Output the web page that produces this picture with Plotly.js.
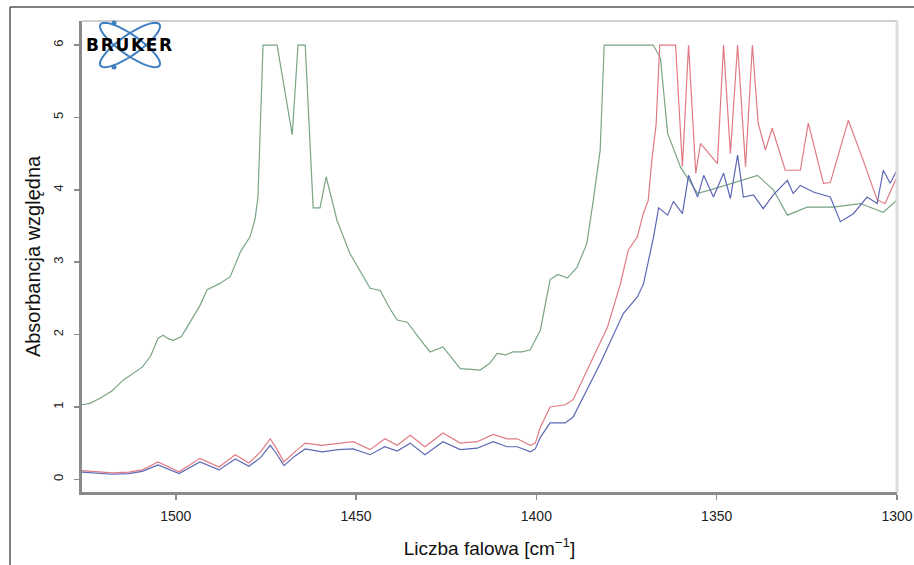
<!DOCTYPE html>
<html><head><meta charset="utf-8">
<script src="https://cdn.plot.ly/plotly-3.0.1.min.js"></script>
<style>html,body{margin:0;padding:0;background:#fff}#chart{width:914px;height:565px}</style>
</head><body><div id="chart"></div>
<script>
// Wavenumbers (cm^-1) and relative absorbance
const greenX = [1526,1523.8,1521,1517.7,1514.6,1509.3,1507,1504.9,1503.5,1502,1500.7,1498.5,1496.9,1493.3,1491.3,1488,1484.9,1482,1479.4,1478,1477.2,1476.5,1475.8,1471.9,1467.7,1466.1,1464.1,1461.9,1460,1458.3,1455.3,1451.7,1448,1446.1,1443.3,1440.5,1438.6,1435.8,1432.5,1429.5,1425.9,1423,1421.1,1418,1415.6,1413,1410.9,1408.5,1406.5,1404,1401.7,1398.9,1396.2,1394,1391.4,1388.7,1386,1384.2,1382.3,1381.2,1367.6,1365.6,1364.5,1363.6,1360,1355.3,1351.7,1347,1338.7,1334.3,1330.4,1324.9,1317.7,1310.2,1303.8,1300];
const greenY = [1.03,1.05,1.12,1.22,1.37,1.55,1.7,1.95,1.99,1.94,1.92,1.97,2.1,2.4,2.62,2.7,2.8,3.15,3.35,3.6,3.9,5.0,6.0,6.0,4.76,6.0,6.0,3.75,3.75,4.18,3.58,3.12,2.8,2.64,2.61,2.35,2.2,2.17,1.95,1.76,1.83,1.65,1.53,1.52,1.51,1.6,1.74,1.72,1.76,1.76,1.79,2.06,2.76,2.83,2.78,2.93,3.26,3.86,4.55,6.0,6.0,5.82,5.2,4.78,4.31,3.95,4.0,4.07,4.2,4.0,3.65,3.76,3.76,3.81,3.69,3.86];

const redX = [1526,1521,1517.7,1513,1509.3,1504.9,1499.1,1493.3,1488,1483.5,1479.7,1476.5,1473.8,1472,1470,1467,1464.1,1459.4,1455,1450.8,1446.1,1442,1438.6,1435,1430.9,1425.9,1421.1,1416.4,1412,1408.1,1405.3,1401.7,1400.3,1398.9,1396.2,1392,1389.8,1385,1380.3,1376.7,1374.5,1372,1370.3,1369,1368,1366.8,1365.8,1361.4,1359.5,1357.8,1355.8,1354.5,1349.8,1348.1,1346.2,1344.2,1342,1340.1,1338.5,1336.5,1334.6,1331,1326.8,1324.6,1320.4,1318.5,1313.5,1309.4,1305.5,1303.3,1300];
const redY = [0.12,0.1,0.09,0.1,0.13,0.24,0.105,0.29,0.17,0.34,0.225,0.38,0.56,0.42,0.24,0.38,0.5,0.47,0.5,0.52,0.41,0.56,0.47,0.61,0.45,0.64,0.5,0.52,0.62,0.56,0.56,0.47,0.5,0.72,1.0,1.03,1.1,1.6,2.1,2.7,3.17,3.35,3.68,3.85,4.4,4.9,6,6,4.32,6,4.23,4.64,4.36,6,4.5,6,4.32,6,4.92,4.55,4.85,4.27,4.27,4.92,4.09,4.1,4.96,4.41,3.86,3.81,4.18];

const blueX = [1526,1521,1517.7,1513,1509.3,1504.9,1499.1,1493.3,1488,1483.5,1479.7,1476.5,1473.8,1472,1470,1467,1464.1,1459.4,1455,1450.8,1446.1,1442,1438.6,1435,1430.9,1425.9,1421.1,1416.4,1412,1408.1,1405.3,1401.7,1400.3,1398.9,1396.2,1392,1389.8,1382.3,1375.9,1372,1370.3,1367.5,1366.1,1363.6,1362,1359.5,1357.8,1355.3,1353.6,1350.9,1348.1,1346.2,1344.2,1342.6,1339.8,1337.1,1334.3,1330.4,1328.8,1326.8,1323.2,1318.5,1315.7,1312.1,1308.3,1305.5,1303.8,1301.9,1300];
const blueY = [0.1,0.08,0.07,0.08,0.11,0.2,0.08,0.24,0.13,0.28,0.18,0.3,0.47,0.35,0.19,0.32,0.42,0.38,0.41,0.42,0.34,0.45,0.39,0.5,0.34,0.52,0.41,0.43,0.52,0.45,0.45,0.38,0.42,0.58,0.78,0.78,0.86,1.6,2.29,2.52,2.7,3.35,3.75,3.65,3.84,3.67,4.2,3.9,4.2,3.9,4.23,3.88,4.48,3.9,3.93,3.74,3.93,4.13,3.95,4.06,3.97,3.9,3.56,3.67,3.9,3.81,4.27,4.09,4.27];

const xTicks = [1500,1450,1400,1350,1300];
const yTicks = [0,1,2,3,4,5,6];

const W = 914, H = 565, ML = 82, MR = 17, MT = 21, MB = 73;
const PW = W - ML - MR, PH = H - MT - MB;
function px2paperX(p){return (p-ML)/PW;}
function px2paperY(p){return (H-MB-p)/PH;}

function ellipsePath(cx, cy, a, b, deg){
  const t = deg*Math.PI/180, pts = [];
  for(let i=0;i<=48;i++){
    const u = i/48*2*Math.PI;
    const ex = a*Math.cos(u), ey = b*Math.sin(u);
    const x = cx + ex*Math.cos(t) - ey*Math.sin(t);
    const y = cy + ex*Math.sin(t) + ey*Math.cos(t);
    pts.push((i?'L':'M')+px2paperX(x).toFixed(5)+','+px2paperY(y).toFixed(5));
  }
  return pts.join(' ')+' Z';
}
function dot(cx,cy,r){
  return {type:'circle',xref:'paper',yref:'paper',x0:px2paperX(cx-r),x1:px2paperX(cx+r),y0:px2paperY(cy+r),y1:px2paperY(cy-r),fillcolor:'#3f7fc0',line:{width:0}};
}

const lineStyle = (c)=>({color:c,width:1.2});
const traces = [
  {x:greenX,y:greenY,type:'scatter',mode:'lines',line:lineStyle('#7aa584'),name:'zielona',hoverinfo:'x+y'},
  {x:redX,y:redY,type:'scatter',mode:'lines',line:lineStyle('#e07a83'),name:'czerwona',hoverinfo:'x+y'},
  {x:blueX,y:blueY,type:'scatter',mode:'lines',line:lineStyle('#5c68b4'),name:'niebieska',hoverinfo:'x+y'}
];

const shapes = [
  // outer frame
  {type:'line',xref:'paper',yref:'paper',x0:px2paperX(10),x1:px2paperX(914),y0:px2paperY(7),y1:px2paperY(7),line:{color:'#555',width:1.5}},
  {type:'line',xref:'paper',yref:'paper',x0:px2paperX(10),x1:px2paperX(10),y0:px2paperY(7),y1:px2paperY(566),line:{color:'#555',width:1.5}},
  // light top/right plot border
  {type:'line',xref:'paper',yref:'paper',x0:0,x1:1,y0:1,y1:1,line:{color:'#cfcfcf',width:2}},
  {type:'line',xref:'paper',yref:'paper',x0:1,x1:1,y0:0,y1:1,line:{color:'#dcdcdc',width:3}},
  // logo orbits
  {type:'path',xref:'paper',yref:'paper',path:ellipsePath(130,45,36,10,35),line:{color:'#3f7fc0',width:2}},
  {type:'path',xref:'paper',yref:'paper',path:ellipsePath(130,45,36,10,-35),line:{color:'#3f7fc0',width:2}},
  dot(114,23,2.5), dot(114,67,2.5)
];

const layout = {
  width:W, height:H,
  margin:{l:ML,r:MR,t:MT,b:MB,pad:0},
  paper_bgcolor:'#fff', plot_bgcolor:'#fff',
  showlegend:false,
  font:{family:'"Liberation Sans", Arial, sans-serif',color:'#222'},
  xaxis:{
    range:[1526,1300], tickvals:xTicks, ticktext:xTicks.map(String),
    showgrid:false, zeroline:false, showline:true, linecolor:'#8a8a8a', linewidth:2.5,
    ticks:'outside', ticklen:5, tickwidth:1.5, tickcolor:'#8a8a8a',
    tickfont:{size:14,color:'#222'}, ticklabelstandoff:5,
    title:{text:'Liczba falowa [cm<sup>\u22121</sup>]',font:{size:19,color:'#111'},standoff:19}
  },
  yaxis:{
    range:[-0.175,6.332], tickvals:yTicks, ticktext:yTicks.map(String), tickangle:-90,
    showgrid:false, zeroline:false, showline:true, linecolor:'#8a8a8a', linewidth:3,
    ticks:'outside', ticklen:5, tickwidth:1.5, tickcolor:'#8a8a8a',
    tickfont:{size:13,color:'#222'}, ticklabelstandoff:6,
    title:{text:'Absorbancja względna',font:{size:20,color:'#111'},standoff:5}
  },
  shapes:shapes,
  annotations:[
    {xref:'paper',yref:'paper',x:px2paperX(128.5),y:px2paperY(45),xanchor:'center',yanchor:'middle',
     text:'B\u200AR\u200AU\u200AK\u200AE\u200AR',showarrow:false,
     font:{family:'"DejaVu Sans", sans-serif',size:17,color:'#000',weight:'bold'}}
  ]
};

Plotly.newPlot('chart', traces, layout, {displayModeBar:false, staticPlot:true});
</script>
</body></html>
